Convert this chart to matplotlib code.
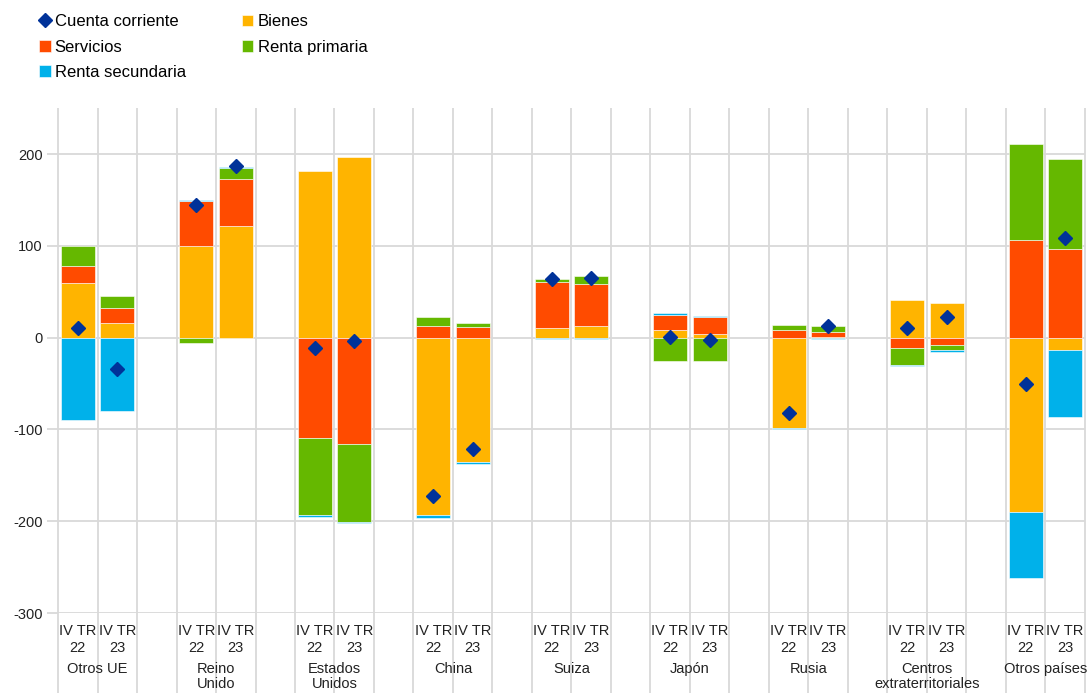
import matplotlib.pyplot as plt
import matplotlib.transforms as mtransforms
import numpy as np

plt.rcParams["font.family"] = ["Liberation Sans", "DejaVu Sans"]
plt.rcParams["axes.unicode_minus"] = False

groups = ["Otros UE", "Reino\nUnido", "Estados\nUnidos", "China", "Suiza", "Japón",
          "Rusia", "Centros\nextraterritoriales", "Otros países"]
periods = ["IV TR\n22", "IV TR\n23"]

# two values per group: IV TR 22, IV TR 23
bienes = [60, 16, 100, 122, 182, 197, -193, -136, 10, 13,
          8, 4, -98, 1, 41, 38, -190, -14]
servicios = [18, 16, 49, 51, -109, -116, 13, 12, 51, 45,
             17, 19, 8, 5, -11, -8, 106, 97]
renta_primaria = [22, 13, -6, 12, -84, -85, 9, 4, 3, 9,
                  -26, -26, 6, 7, -19, -6, 105, 98]
renta_secundaria = [-90, -80, 1, 1, -2, -1, -3, -2, -2, -2,
                    2, 1, -2, -2, -1, -2, -72, -73]
cuenta_corriente = [10, -34, 144, 187, -11, -4, -173, -121, 64, 65,
                    1, -3, -82, 13, 11, 23, -50, 108]

series = [
    ("Bienes", bienes, "#FFB400"),
    ("Servicios", servicios, "#FF4B00"),
    ("Renta primaria", renta_primaria, "#65B800"),
    ("Renta secundaria", renta_secundaria, "#00B1EA"),
]

n = len(groups)
x = np.array([3 * g + j for g in range(n) for j in range(2)])

fig = plt.figure(figsize=(10.87, 6.93), dpi=100)
ax = fig.add_axes([0.0534, 0.1154, 0.9446, 0.7286])

grid_c = "#d9d9d9"
pos = np.zeros(len(x))
neg = np.zeros(len(x))
handles = {}
for name, vals, color in series:
    v = np.array(vals, dtype=float)
    bottom = np.where(v >= 0, pos, neg)
    b = ax.bar(x, v, bottom=bottom, width=0.86, color=color,
               edgecolor="white", linewidth=0.4, zorder=3, label=name)
    handles[name] = b
    pos = pos + np.where(v >= 0, v, 0)
    neg = neg + np.where(v < 0, v, 0)

cc, = ax.plot(x, cuenta_corriente, linestyle="none", marker="D", markersize=7,
              color="#003299", zorder=5, label="Cuenta corriente")

ax.set_xlim(-0.5, 3 * n - 1.5)
ax.set_ylim(-300, 250)
ax.set_yticks([-300, -200, -100, 0, 100, 200])
ax.yaxis.grid(True, color=grid_c, linewidth=1.3, zorder=0)
ax.tick_params(axis="y", length=8, color=grid_c, width=1.3, labelsize=10.5,
               labelcolor="#222222", pad=3)
for s in ax.spines.values():
    s.set_visible(False)

# vertical separators, running through the label area
trans = mtransforms.blended_transform_factory(ax.transData, ax.transAxes)
bounds = np.arange(-0.5, 3 * n - 1, 1.0)
ax.vlines(bounds, -0.16, 1.0, transform=trans, color=grid_c, linewidth=1.3,
          clip_on=False, zorder=0)

ax.set_xticks(x)
ax.set_xticklabels(periods * n, fontsize=10.5, color="#222222", linespacing=1.3)
ax.tick_params(axis="x", length=0, pad=8)

for g, name in enumerate(groups):
    ax.text(3 * g + 0.5, -0.097, name, transform=trans, ha="center", va="top",
            fontsize=10.5, color="#222222", linespacing=1.1)

order = [cc, handles["Servicios"], handles["Renta secundaria"],
         handles["Bienes"], handles["Renta primaria"]]
fig.legend(order, [h.get_label() for h in order], ncol=2, loc="upper left",
           bbox_to_anchor=(0.022, 1.001), frameon=False, fontsize=12,
           handlelength=0.7, handletextpad=0.25, columnspacing=3.35,
           labelspacing=0.62)

fig.savefig("out.png", dpi=100)
